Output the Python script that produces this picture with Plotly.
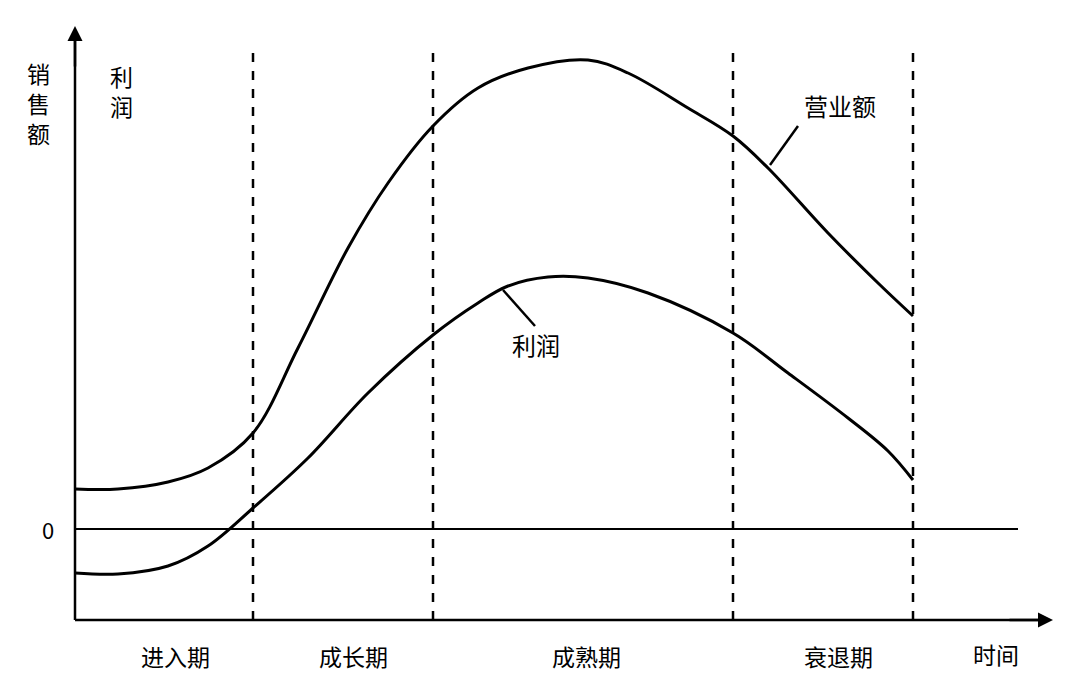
import plotly.graph_objects as go

# curve points (x: time, y: picture units, smaller = higher)
sales_x = [67, 110, 160, 200, 245, 290, 340, 380, 425, 470, 520, 580, 620, 680, 725, 760, 820, 870, 905]
sales_y = [481, 481, 474, 460, 425, 340, 240, 175, 118, 80, 60, 52, 65, 100, 128, 160, 225, 275, 308]
profit_x = [67, 110, 160, 200, 245, 300, 360, 425, 470, 500, 540, 580, 640, 725, 780, 840, 880, 905]
profit_y = [565, 566, 558, 538, 500, 450, 385, 327, 295, 278, 269, 270, 285, 325, 365, 410, 443, 472]

stage_bounds = [245, 425, 725, 905]
stage_names = ["进入期", "成长期", "成熟期", "衰退期"]
stage_label_x = [167, 345, 578, 830]

FONT = "Noto Sans CJK SC"
line = dict(color="black", width=2.5)

fig = go.Figure()
fig.add_trace(go.Scatter(x=sales_x, y=sales_y, mode="lines",
                         line=dict(color="black", width=3, shape="spline")))
fig.add_trace(go.Scatter(x=profit_x, y=profit_y, mode="lines",
                         line=dict(color="black", width=3, shape="spline")))

# axes and zero line
fig.add_shape(type="line", x0=67, y0=612, x1=67, y1=28, line=line)
fig.add_shape(type="line", x0=67, y0=612, x1=1035, y1=612, line=line)
fig.add_shape(type="line", x0=67, y0=521, x1=1010, y1=521, line=dict(color="black", width=2))
fig.add_annotation(x=67, y=18, ax=67, ay=60, xref="x", yref="y", axref="x", ayref="y",
                   showarrow=True, arrowhead=2, arrowsize=1.2, arrowwidth=2.5,
                   arrowcolor="black", text="")
fig.add_annotation(x=1045, y=612, ax=1000, ay=612, xref="x", yref="y", axref="x", ayref="y",
                   showarrow=True, arrowhead=2, arrowsize=1.2, arrowwidth=2.5,
                   arrowcolor="black", text="")

for b in stage_bounds:
    fig.add_shape(type="line", x0=b, y0=45, x1=b, y1=612,
                  line=dict(color="black", width=2.5, dash="dash"))

# leader lines
fig.add_shape(type="line", x0=762, y0=157, x1=790, y1=118, line=dict(color="black", width=2.5))
fig.add_shape(type="line", x0=495, y0=282, x1=527, y1=318, line=dict(color="black", width=2.5))

def label(x, y, t, size=24):
    fig.add_annotation(x=x, y=y, text=t, showarrow=False,
                       font=dict(family=FONT, size=size, color="black"))

label(30, 95, "销<br>售<br>额", 23)
label(113, 83, "利<br>润", 23)
label(832, 97, "营业额")
label(528, 336, "利润")
label(40, 521, "0", 22)
for n, xx in zip(stage_names, stage_label_x):
    label(xx, 648, n, 23)
label(988, 646, "时间", 23)

fig.update_layout(width=1068, height=678, margin=dict(l=0, r=0, t=0, b=0),
                  plot_bgcolor="white", paper_bgcolor="white", showlegend=False,
                  xaxis=dict(range=[0, 1068], visible=False),
                  yaxis=dict(range=[678, 0], visible=False))
fig.write_html("out.html")
